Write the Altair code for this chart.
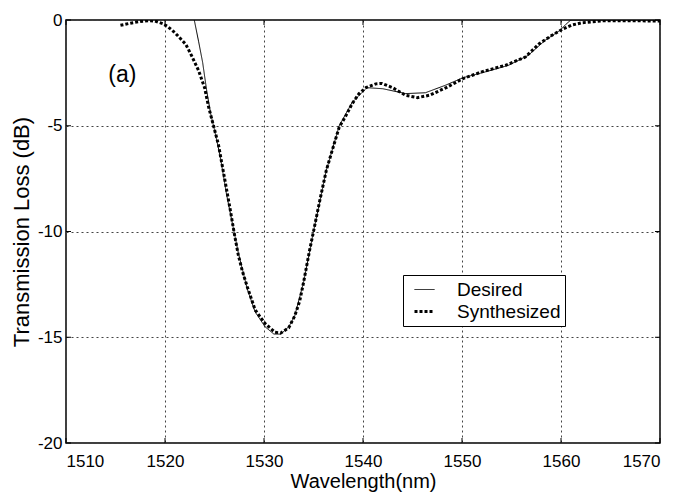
import altair as alt
import pandas as pd

# ---- data ----
WL_SYN = [1515.5, 1516.5, 1517.5, 1518.5, 1519.0, 1519.8, 1520.3, 1521.0, 1521.6, 1522.1,
          1522.7, 1523.4, 1524.0, 1524.4, 1524.9, 1525.4, 1526.1, 1526.6, 1527.0, 1527.4,
          1527.8, 1528.3, 1529.1, 1530.1, 1531.1, 1531.7, 1532.5, 1533.1, 1533.6, 1534.0,
          1534.6, 1535.0, 1535.65, 1536.3, 1536.9, 1537.6, 1538.2, 1538.9, 1539.6, 1540.3,
          1541.3, 1541.9, 1543.0, 1544.3, 1545.5, 1546.7, 1548.4, 1550.1, 1552.0, 1554.4,
          1556.4, 1557.8, 1559.1, 1560.1, 1561.1, 1562.1, 1564.1, 1566.0, 1568.0, 1570.0]
DB_SYN = [-0.25, -0.15, -0.07, -0.03, -0.05, -0.18, -0.32, -0.6, -0.9, -1.15,
          -1.7, -2.4, -3.2, -4.1, -5.0, -5.9, -7.7, -9.0, -10.1, -11.1,
          -11.85, -12.6, -13.7, -14.35, -14.76, -14.8, -14.55, -14.0, -13.3, -12.4,
          -10.9, -10.0, -8.5, -7.1, -6.15, -5.06, -4.59, -3.96, -3.48, -3.2,
          -3.02, -3.0, -3.2, -3.56, -3.67, -3.56, -3.2, -2.77, -2.45, -2.14,
          -1.75, -1.12, -0.72, -0.45, -0.24, -0.13, -0.04, -0.03, -0.04, -0.05]

WL_DES = [1522.5, 1523.0, 1523.4, 1523.8, 1524.2, 1524.6, 1525.0, 1525.6, 1526.2, 1526.8,
          1527.4, 1528.3, 1529.1, 1530.1, 1531.0, 1531.7, 1532.5, 1533.1, 1534.0, 1535.0,
          1536.3, 1537.6, 1538.9, 1540.4, 1542.0, 1544.3, 1546.3, 1548.3, 1550.1, 1552.7,
          1554.7, 1556.7, 1558.4, 1559.9, 1560.5, 1561.0, 1570.0]
DB_DES = [1.0, -0.1, -1.03, -2.0, -3.3, -4.4, -5.2, -6.5, -8.2, -9.6,
          -11.0, -12.7, -13.8, -14.5, -14.85, -14.85, -14.5, -14.0, -12.4, -10.0,
          -7.1, -5.0, -3.9, -3.2, -3.25, -3.48, -3.44, -3.09, -2.73, -2.41,
          -2.14, -1.67, -0.96, -0.49, -0.2, 0.0, 0.0]

SERIES = ["Desired", "Synthesized"]
X_TICKS = [1510, 1520, 1530, 1540, 1550, 1560, 1570]
Y_TICKS = [0, -5, -10, -15, -20]
LABEL_TEXT = "(a)"
LABEL_WL = 1515.7
LABEL_DB = -2.6

W, H = 594, 423
FONT = "Liberation Sans"

df = pd.concat([
    pd.DataFrame({"wl": WL_DES, "db": DB_DES, "series": SERIES[0]}),
    pd.DataFrame({"wl": WL_SYN, "db": DB_SYN, "series": SERIES[1]}),
], ignore_index=True)

xs = alt.Scale(domain=[1510, 1570], nice=False, zero=False)
ys = alt.Scale(domain=[-20, 0], nice=False, zero=False)

X_AXIS = alt.Axis(values=X_TICKS, title="Wavelength(nm)", labelExpr="toString(datum.value)",
                  labelFontSize=17, titleFontSize=20, labelPadding=10, titlePadding=2)
Y_AXIS = alt.Axis(values=Y_TICKS, title="Transmission Loss (dB)", labelExpr="toString(datum.value)",
                  labelFontSize=17, titleFontSize=22, labelPadding=4, titlePadding=4)


def xenc(field="wl"):
    return alt.X(f"{field}:Q", scale=xs, axis=X_AXIS, title="Wavelength(nm)")


def yenc(field="db"):
    return alt.Y(f"{field}:Q", scale=ys, axis=Y_AXIS, title="Transmission Loss (dB)")


leg = dict(title=None, orient="none", legendX=337, legendY=255,
           symbolType="stroke", symbolSize=400, symbolStrokeColor="black",
           symbolOffset=6,
           labelFontSize=19, labelFont=FONT, labelColor="black",
           labelExpr="datum.label + '\u00a0'",
           fillColor="white", strokeColor="black", padding=4,
           rowPadding=0, labelOffset=21)

lines = alt.Chart(df).mark_line(clip=True, color="black", strokeCap="butt").encode(
    x=xenc(),
    y=yenc(),
    strokeDash=alt.StrokeDash("series:N",
                              scale=alt.Scale(domain=SERIES, range=[[1, 0], [3, 2]]),
                              legend=alt.Legend(**leg)),
    strokeWidth=alt.StrokeWidth("series:N",
                                scale=alt.Scale(type="ordinal", domain=SERIES, range=[1, 3]),
                                legend=alt.Legend(**leg)),
)

tx = pd.DataFrame({"wl": X_TICKS})
ty = pd.DataFrame({"db": Y_TICKS})
tick_style = dict(color="black", strokeWidth=1)
bottom = alt.Chart(tx).mark_rule(**tick_style).encode(
    x=xenc(), y=alt.value(H), y2=alt.value(H - 5))
top = alt.Chart(tx).mark_rule(**tick_style).encode(
    x=xenc(), y=alt.value(0), y2=alt.value(5))
left = alt.Chart(ty).mark_rule(**tick_style).encode(
    y=yenc(), x=alt.value(0), x2=alt.value(5))
right = alt.Chart(ty).mark_rule(**tick_style).encode(
    y=yenc(), x=alt.value(W), x2=alt.value(W - 5))

label = alt.Chart(pd.DataFrame({"wl": [LABEL_WL], "db": [LABEL_DB], "t": [LABEL_TEXT]})).mark_text(
    fontSize=23, font=FONT, color="black", align="center", baseline="middle").encode(
    x=xenc(), y=yenc(), text="t:N")

chart = alt.layer(lines, bottom, top, left, right, label).properties(
    width=W, height=H,
    padding={"left": 58, "top": 12, "right": 9, "bottom": 51},
    autosize=alt.AutoSizeParams(type="none"),
    background="white",
).configure_view(stroke="black", strokeWidth=1.5).configure_axis(
    grid=True, gridDash=[2, 3], gridColor="#444", gridWidth=1, gridOpacity=1,
    domain=False, ticks=False, labelFont=FONT, titleFont=FONT,
    labelColor="black", titleColor="black", titleFontWeight="normal",
)

chart.save("out.html", embed_options={"renderer": "svg", "actions": False})
